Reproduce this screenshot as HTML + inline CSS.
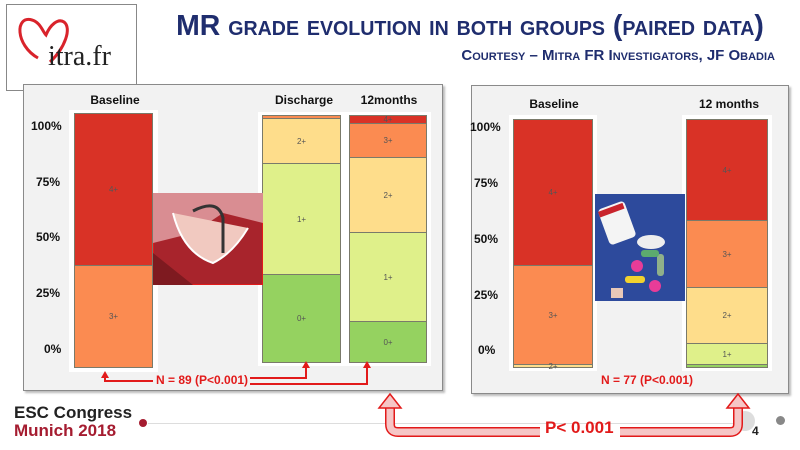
<!DOCTYPE html>
<html><head><meta charset="utf-8"><style>
*{margin:0;padding:0;box-sizing:border-box}
body{width:800px;height:450px;background:#fff;position:relative;overflow:hidden;font-family:"Liberation Sans",sans-serif}
.a{position:absolute}
.panel{position:absolute;background:#f2f2f2;border:1px solid #8a8a8a;box-shadow:2px 2px 2px #bbb}
.seg{position:absolute;border:1px solid #7a7a6a;font-size:8px;color:#555;display:flex;align-items:center;justify-content:center}
.c4{background:#d93226}.c3{background:#fb8b51}.c2{background:#fedd8b}.c1{background:#dff08a}.c0{background:#95d260}
.yl{position:absolute;font-size:12px;font-weight:bold;color:#111}
.hd{position:absolute;font-size:12px;font-weight:bold;color:#111;transform:translateX(-50%);white-space:nowrap}
.wb{position:absolute;background:#fff}
.rt{position:absolute;color:#e21a1a;font-weight:bold;font-size:12px;white-space:nowrap}
</style></head><body>
<!-- logo -->
<div class="a" style="left:6px;top:4px;width:131px;height:87px;border:1px solid #888;background:#fff"></div>
<svg class="a" style="left:10px;top:10px" width="125" height="80">
<path d="M28 48 C5 35 5 5 22 10 C30 12 33 22 36 25 C40 15 48 8 54 12 C62 18 55 38 40 52" fill="none" stroke="#d9232b" stroke-width="3"/>
<text x="38" y="55" font-family="Liberation Serif" font-size="28" fill="#222">itra.fr</text>
</svg>
<!-- title -->
<div class="a" style="left:140px;top:10px;width:660px;text-align:center;color:#1f2d6e;font-weight:bold;font-size:29px;font-variant:small-caps;white-space:nowrap;transform:scaleX(0.98);transform-origin:center">MR grade evolution in both groups (paired data)</div>
<div class="a" style="left:300px;top:47px;width:475px;text-align:right;color:#1f2d6e;font-weight:bold;font-size:15px;font-variant:small-caps;white-space:nowrap">Courtesy – Mitra FR Investigators, JF Obadia</div>

<!-- left panel -->
<div class="panel" style="left:23px;top:84px;width:420px;height:307px"></div>
<div class="hd" style="left:115px;top:93px">Baseline</div>
<div class="hd" style="left:304px;top:93px">Discharge</div>
<div class="hd" style="left:389px;top:93px">12months</div>
<div class="yl" style="left:31px;top:119px">100%</div>
<div class="yl" style="left:36px;top:175px">75%</div>
<div class="yl" style="left:36px;top:230px">50%</div>
<div class="yl" style="left:36px;top:286px">25%</div>
<div class="yl" style="left:44px;top:342px">0%</div>
<div class="wb" style="left:69px;top:110px;width:89px;height:262px"></div>
<div class="seg c4" style="left:74px;top:113px;width:79px;height:153px">4+</div>
<div class="seg c3" style="left:74px;top:265px;width:79px;height:103px">3+</div>
<div class="wb" style="left:258px;top:112px;width:173px;height:254px"></div>
<div class="seg c3" style="left:262px;top:115px;width:79px;height:4px"></div>
<div class="seg c2" style="left:262px;top:118px;width:79px;height:46px">2+</div>
<div class="seg c1" style="left:262px;top:163px;width:79px;height:112px">1+</div>
<div class="seg c0" style="left:262px;top:274px;width:79px;height:89px">0+</div>
<div class="seg c4" style="left:349px;top:115px;width:78px;height:9px">4+</div>
<div class="seg c3" style="left:349px;top:123px;width:78px;height:35px">3+</div>
<div class="seg c2" style="left:349px;top:157px;width:78px;height:76px">2+</div>
<div class="seg c1" style="left:349px;top:232px;width:78px;height:90px">1+</div>
<div class="seg c0" style="left:349px;top:321px;width:78px;height:42px">0+</div>
<svg class="a" style="left:153px;top:193px" width="110" height="92">
<rect x="0.5" y="0.5" width="109" height="91" fill="#a8242c" stroke="#e21a1a"/>
<path d="M0 0 L110 0 L110 30 L70 20 L40 40 L0 50Z" fill="#d98d92"/>
<path d="M20 20 Q30 60 60 70 Q80 60 95 35" fill="#f1c9c0" stroke="#fff" stroke-width="2"/>
<path d="M40 18 Q65 5 70 25 L70 60" fill="none" stroke="#333" stroke-width="3"/>
<path d="M0 60 L40 92 L0 92Z" fill="#7e1a20"/>
</svg>
<svg class="a" style="left:0;top:0" width="800" height="450">
<g stroke="#e21a1a" stroke-width="2" fill="none">
<path d="M105 376 V381 H153"/><path d="M250 378 H306 V366"/><path d="M250 384 H367 V366"/>
<path d="M553 372 V378 H598"/><path d="M700 378 H729 V371"/>
</g>
<g fill="#e21a1a"><path d="M101 378 L105 371 L109 378Z"/><path d="M302 368 L306 361 L310 368Z"/><path d="M363 368 L367 361 L371 368Z"/>
<path d="M549 374 L553 367 L557 374Z"/><path d="M725 373 L729 366 L733 373Z"/></g>
</svg>
<div class="rt" style="left:156px;top:373px;background:#f2f2f2">N = 89 (P&lt;0.001)</div>

<!-- right panel -->
<div class="panel" style="left:471px;top:85px;width:318px;height:309px"></div>
<div class="hd" style="left:554px;top:97px">Baseline</div>
<div class="hd" style="left:729px;top:97px">12 months</div>
<div class="yl" style="left:470px;top:120px">100%</div>
<div class="yl" style="left:474px;top:176px">75%</div>
<div class="yl" style="left:474px;top:232px">50%</div>
<div class="yl" style="left:474px;top:288px">25%</div>
<div class="yl" style="left:478px;top:343px">0%</div>
<div class="wb" style="left:509px;top:115px;width:88px;height:256px"></div>
<div class="seg c4" style="left:513px;top:119px;width:80px;height:147px">4+</div>
<div class="seg c3" style="left:513px;top:265px;width:80px;height:100px">3+</div>
<div class="seg c2" style="left:513px;top:364px;width:80px;height:4px">2+</div>
<div class="wb" style="left:682px;top:115px;width:90px;height:256px"></div>
<div class="seg c4" style="left:686px;top:119px;width:82px;height:102px">4+</div>
<div class="seg c3" style="left:686px;top:220px;width:82px;height:68px">3+</div>
<div class="seg c2" style="left:686px;top:287px;width:82px;height:57px">2+</div>
<div class="seg c1" style="left:686px;top:343px;width:82px;height:22px">1+</div>
<div class="seg c0" style="left:686px;top:364px;width:82px;height:4px"></div>
<svg class="a" style="left:595px;top:194px" width="90" height="107">
<rect width="90" height="107" fill="#2d4a9c"/>
<rect x="8" y="10" width="28" height="38" rx="4" fill="#f4f4f4" transform="rotate(-20 22 29)"/>
<rect x="8" y="12" width="26" height="6" fill="#c8242c" transform="rotate(-20 22 29)"/>
<ellipse cx="56" cy="48" rx="14" ry="7" fill="#eee"/>
<circle cx="42" cy="72" r="6" fill="#e83c98"/><circle cx="60" cy="92" r="6" fill="#e83c98"/>
<rect x="30" y="82" width="20" height="7" rx="3" fill="#f2d22e"/>
<rect x="62" y="60" width="7" height="22" rx="3" fill="#8fb08a"/>
<rect x="46" y="56" width="18" height="7" rx="3" fill="#5caa6e"/>
<rect x="16" y="94" width="12" height="10" fill="#e8c8b8"/>
</svg>
<div class="rt" style="left:601px;top:373px">N = 77 (P&lt;0.001)</div>

<!-- bottom -->
<div class="a" style="left:14px;top:403px;font-size:17px;font-weight:bold;color:#222">ESC Congress</div>
<div class="a" style="left:14px;top:421px;font-size:17px;font-weight:bold;color:#a51c30">Munich 2018</div>
<div class="a" style="left:148px;top:423px;width:600px;height:1px;background:#ddd"></div>
<div class="a" style="left:139px;top:419px;width:8px;height:8px;border-radius:50%;background:#a51c30"></div>
<div class="a" style="left:735px;top:411px;width:20px;height:20px;border-radius:50%;background:#ddd"></div>
<div class="a" style="left:776px;top:416px;width:9px;height:9px;border-radius:50%;background:#888"></div>
<div class="a" style="left:752px;top:424px;font-size:12px;font-weight:bold;color:#222">4</div>
<svg class="a" style="left:0;top:0" width="800" height="450">
<path d="M390 404 V424 Q390 432 398 432 H540 M620 432 H730 Q738 432 738 424 V404" fill="none" stroke="#e21a1a" stroke-width="10" stroke-linejoin="round"/>
<path d="M390 404 V424 Q390 432 398 432 H540 M620 432 H730 Q738 432 738 424 V404" fill="none" stroke="#f6c6c6" stroke-width="7"/>
<path d="M379 408 L390 394 L401 408Z M727 408 L738 394 L749 408Z" fill="#f6c6c6" stroke="#e21a1a" stroke-width="1.5"/>
</svg>
<div class="a" style="left:545px;top:418px;font-size:17px;color:#e21a1a;font-weight:bold">P&lt; 0.001</div>
</body></html>
